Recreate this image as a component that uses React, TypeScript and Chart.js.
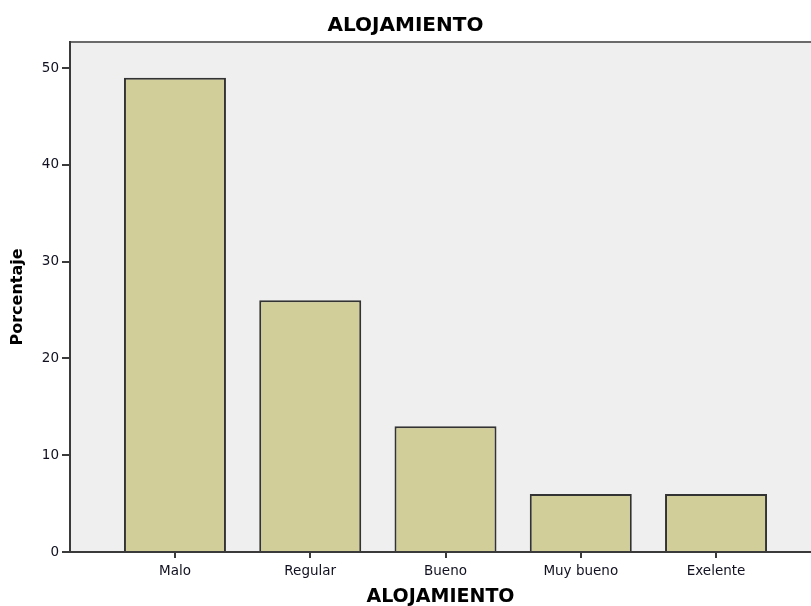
import React, { useEffect, useRef } from "react";
import { Chart, registerables } from "chart.js";

Chart.register(...registerables);

const chartTitle = "ALOJAMIENTO";
const xAxisTitle = "ALOJAMIENTO";
const yAxisTitle = "Porcentaje";
const categories = ["Malo", "Regular", "Bueno", "Muy bueno", "Exelente"];
const percentages = [49, 26, 13, 6, 6];
const yTicks = [0, 10, 20, 30, 40, 50];

const FONT = "'DejaVu Sans', sans-serif";

const plotBg = {
  id: "plotBg",
  beforeDraw(chart: any) {
    const { ctx, chartArea } = chart;
    if (!chartArea) return;
    ctx.save();
    ctx.fillStyle = "#efefef";
    ctx.fillRect(chartArea.left, chartArea.top, chartArea.right - chartArea.left, chartArea.bottom - chartArea.top);
    ctx.strokeStyle = "#6a6a6a";
    ctx.lineWidth = 2;
    ctx.beginPath();
    ctx.moveTo(chartArea.left, chartArea.top);
    ctx.lineTo(chartArea.right, chartArea.top);
    ctx.stroke();
    ctx.restore();
  },
};

export default function App() {
  const ref = useRef<HTMLCanvasElement>(null);
  useEffect(() => {
    if (!ref.current) return;
    const chart = new Chart(ref.current, {
      type: "bar",
      data: {
        datasets: [
          {
            data: percentages.map((v, i) => ({ x: i, y: v })),
            backgroundColor: "#d2ce99",
            borderColor: "#333333",
            borderWidth: 2,
            categoryPercentage: 1,
            barPercentage: 0.754,
          },
        ],
      },
      plugins: [plotBg],
      options: {
        animation: false,
        responsive: false,
        maintainAspectRatio: false,
        layout: { padding: 0 },
        plugins: {
          legend: { display: false },
          tooltip: { enabled: false },
          title: {
            display: true,
            text: chartTitle,
            color: "#000",
            font: { family: FONT, size: 20, weight: "bold" },
            padding: { top: 14, bottom: 4 },
          },
        },
        scales: {
          x: {
            type: "linear",
            min: -0.776,
            max: 4.702,
            offset: false,
            afterBuildTicks: (scale: any) => {
              scale.ticks = categories.map((_, i) => ({ value: i }));
            },
            afterFit: (scale: any) => {
              scale.height = 54;
            },
            ticks: {
              autoSkip: false,
              maxRotation: 0,
              color: "#101020",
              font: { family: FONT, size: 13.5 },
              padding: 5,
              callback: (v: any) => categories[Math.round(Number(v))] ?? "",
            },
            grid: {
              display: true,
              offset: false,
              drawOnChartArea: false,
              drawTicks: true,
              tickLength: 6,
              color: "#3a3a3a",
              lineWidth: 2,
            },
            border: { display: true, color: "#3a3a3a", width: 2 },
            title: {
              display: true,
              text: xAxisTitle,
              color: "#000",
              font: { family: FONT, size: 19, weight: "bold" },
              padding: { top: 0, bottom: -2 },
            },
          },
          y: {
            min: 0,
            max: 52.69,
            afterBuildTicks: (scale: any) => {
              scale.ticks = yTicks.map((v) => ({ value: v }));
            },
            afterFit: (scale: any) => {
              scale.width = 70;
            },
            ticks: {
              color: "#101020",
              font: { family: FONT, size: 13.5 },
              padding: 3,
            },
            grid: {
              display: true,
              drawOnChartArea: false,
              drawTicks: true,
              tickLength: 8,
              color: "#3a3a3a",
              lineWidth: 2,
            },
            border: { display: true, color: "#3a3a3a", width: 2 },
            title: {
              display: true,
              text: yAxisTitle,
              color: "#000",
              font: { family: FONT, size: 16, weight: "bold" },
              padding: { top: 8, bottom: 0 },
            },
          },
        },
      },
    });
    return () => chart.destroy();
  }, []);
  return (
    <div style={{ position: "fixed", left: 0, top: 0, width: 811, height: 606, background: "#fff" }}>
      <canvas ref={ref} width={811} height={606} style={{ width: 811, height: 606, display: "block" }} />
    </div>
  );
}
